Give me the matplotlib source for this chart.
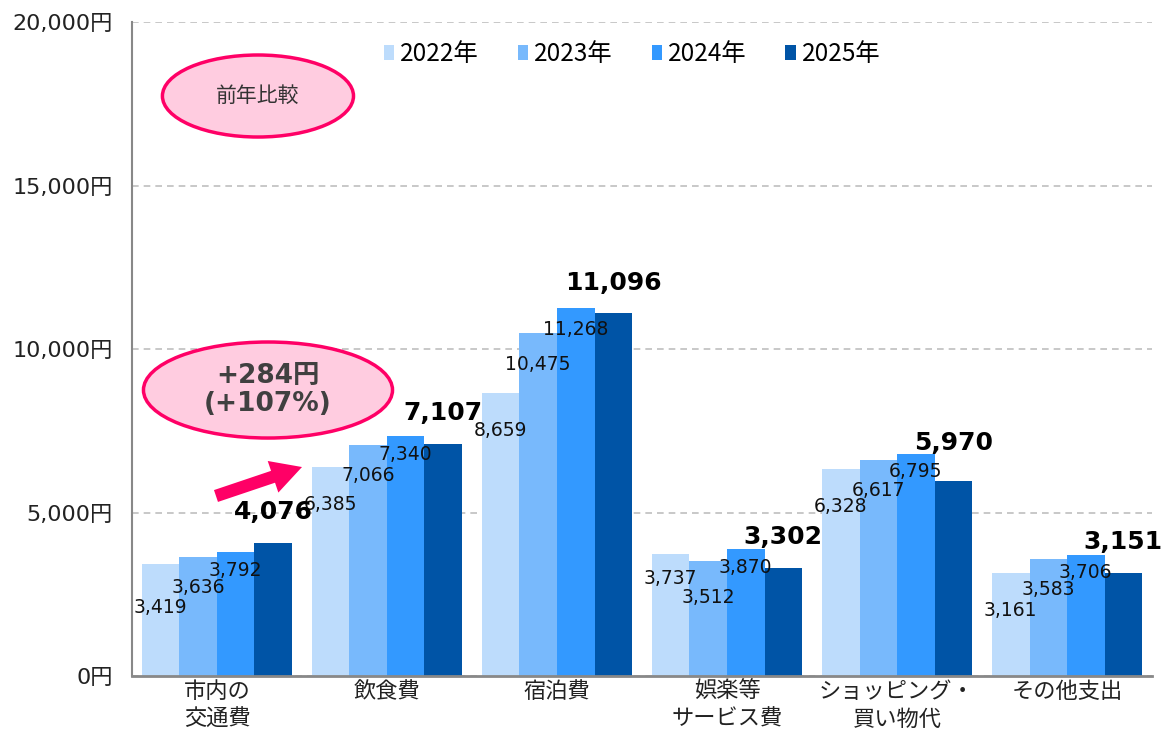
import numpy as np
import matplotlib.pyplot as plt
from matplotlib.patches import Ellipse, Patch

plt.rcParams['font.family'] = ['DejaVu Sans', 'Noto Sans CJK JP']

# data
categories = ['市内の\n交通費', '飲食費', '宿泊費', '娯楽等\nサービス費', 'ショッピング・\n買い物代', 'その他支出']
years = ['2022年', '2023年', '2024年', '2025年']
v2022 = [3419, 6385, 8659, 3737, 6328, 3161]
v2023 = [3636, 7066, 10475, 3512, 6617, 3583]
v2024 = [3792, 7340, 11268, 3870, 6795, 3706]
v2025 = [4076, 7107, 11096, 3302, 5970, 3151]
yticks = [0, 5000, 10000, 15000, 20000]

series = [v2022, v2023, v2024, v2025]
colors = ['#BDDCFC', '#78B9FC', '#3399FF', '#0054A6']
lbl_offsets = [-27, -22, -13, 22]   # points from bar top
# a few labels sit a bit differently in the original
nudge = {(0, 0): -4, (0, 3): 9, (1, 3): -4, (3, 4): 5, (2, 2): -3}

fig = plt.figure(figsize=(11.66, 7.36), dpi=100)
ax = fig.add_axes([0.1132, 0.0815, 0.8748, 0.8886])

x = np.arange(len(categories))
w = 0.2206
for k, vals in enumerate(series):
    pos = x + (k - 1.5) * w
    ax.bar(pos, vals, width=w, color=colors[k], zorder=2)
    for i, (px, v) in enumerate(zip(pos, vals)):
        dy = lbl_offsets[k] + nudge.get((k, i), 0)
        if k < 3:
            ax.annotate(f'{v:,}', (px, v), xytext=(0, dy),
                        textcoords='offset points', ha='center', va='center',
                        fontsize=13.5, color='#111111', zorder=4)
        else:
            ax.annotate(f'{v:,}', (px, v), xytext=(0, dy),
                        textcoords='offset points', ha='center', va='center',
                        fontsize=18, fontweight='bold', color='black', zorder=4)

ax.set_xlim(-0.5, 5.5)
ax.set_ylim(0, 20000)
ax.set_yticks(yticks)
ax.set_yticklabels([f'{t:,}円' for t in yticks], fontsize=16, color='#222222')
ax.set_xticks(x)
ax.set_xticklabels(categories, fontsize=16, color='#222222',
                   family=['Noto Sans CJK JP'], linespacing=1.25)
ax.tick_params(axis='y', length=0, pad=14)
ax.tick_params(axis='x', length=0, pad=3)
ax.grid(axis='y', linestyle=(0, (4, 3)), color='#BFBFBF', linewidth=1.2, zorder=0)
ax.set_axisbelow(True)
for s in ['top', 'right']:
    ax.spines[s].set_visible(False)
ax.spines['left'].set_color('#888888')
ax.spines['left'].set_linewidth(1.5)
ax.spines['bottom'].set_color('#888888')
ax.spines['bottom'].set_linewidth(2)

# legend
handles = [Patch(facecolor=c, edgecolor='none') for c in colors]
ax.legend(handles, years, ncol=4, loc='center left', bbox_to_anchor=(0.247, 0.951),
          frameon=False, handlelength=0.42, handleheight=0.6, handletextpad=0.25,
          columnspacing=1.6, borderaxespad=0, borderpad=0,
          prop={'family': ['Liberation Sans Narrow', 'Noto Sans CJK JP'], 'size': 17.5})

# callouts
ax.add_patch(Ellipse((0.241, 17737), 1.124, 2508, facecolor='#FFCCE0',
                     edgecolor='#FF0066', linewidth=2.5, zorder=5))
ax.text(0.241, 17737, '前年比較', ha='center', va='center', fontsize=15,
        color='#333333', family=['Noto Sans CJK JP'], zorder=6)

ax.add_patch(Ellipse((0.3, 8746), 1.465, 2936, facecolor='#FFCCE0',
                     edgecolor='#FF0066', linewidth=2.5, zorder=5))
ax.text(0.3, 8746, '+284円\n(+107%)', ha='center', va='center', fontsize=19,
        fontweight='bold', color='#404040', linespacing=1.1, zorder=6)

ax.annotate('', xy=(0.5, 6391), xytext=(-0.006, 5505),
            arrowprops=dict(arrowstyle='simple,head_length=2.2,head_width=2.4,tail_width=0.9',
                            color='#FF0066', lw=0, shrinkA=0, shrinkB=0), zorder=6)

plt.savefig('out.png', dpi=100)
